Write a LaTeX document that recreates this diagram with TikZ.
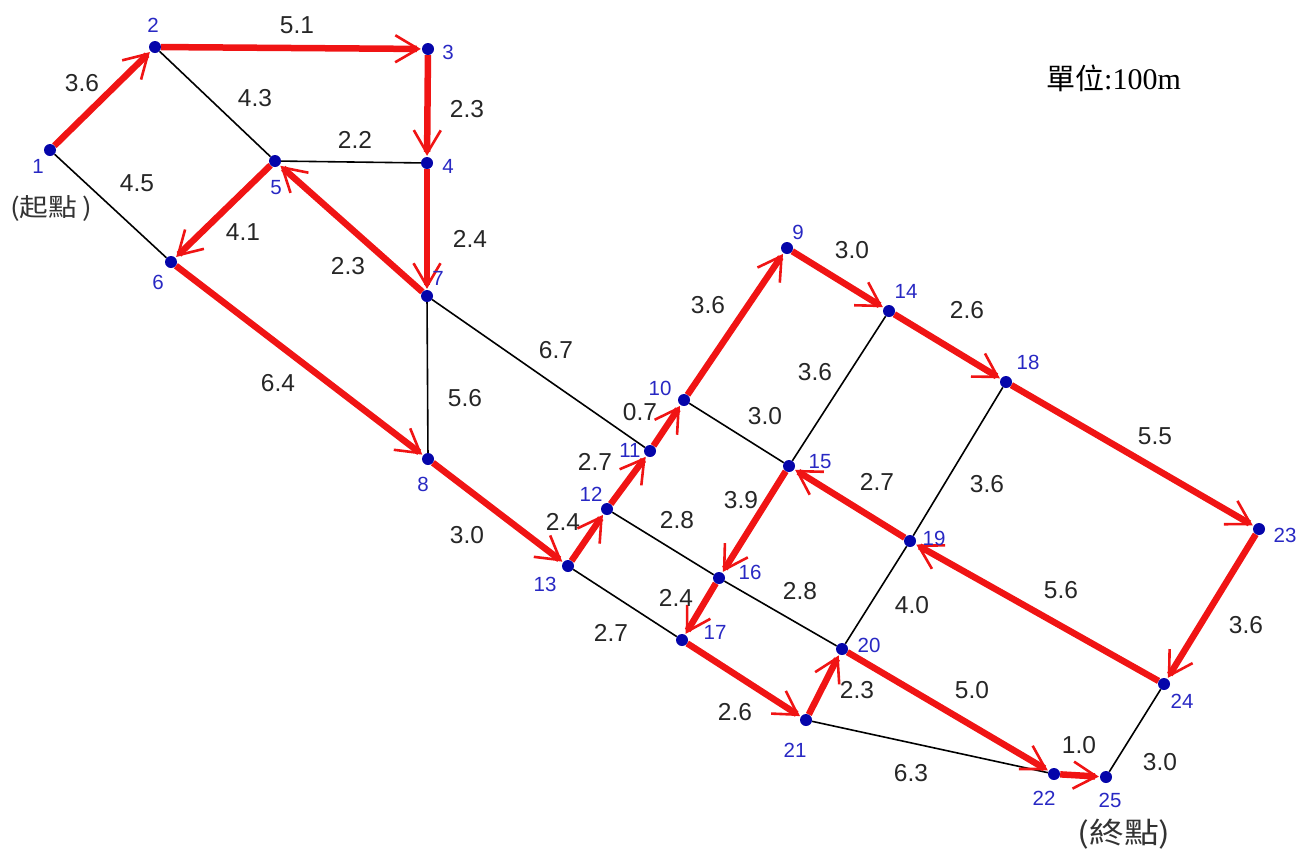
\documentclass[tikz,border=0pt]{standalone}
\usepackage{fontspec}
\setmainfont{Liberation Sans}
\newfontfamily\cjk{Noto Sans CJK TC}
\newfontfamily\timesf{Liberation Serif}
\usetikzlibrary{arrows.meta,backgrounds}
\definecolor{dotblue}{RGB}{5,5,170}
\definecolor{labblue}{RGB}{40,40,195}
\definecolor{pathred}{RGB}{240,20,20}
\begin{document}
\begin{tikzpicture}[x=1pt,y=-1pt,
  dot/.style={circle,fill=dotblue,inner sep=0pt,minimum size=12pt},
  nlab/.style={text=labblue,font=\fontsize{20.5}{20.5}\selectfont,inner sep=0pt},
  elab/.style={text=black!85,font=\fontsize{24.5}{24.5}\selectfont,inner sep=0pt},
  redpath/.style={draw=pathred,line width=6.5pt,shorten >=1pt,
     -{Straight Barb[length=23pt,width=27pt,line width=2.6pt]}},
  blackline/.style={draw=black,line width=1.6pt}]
\useasboundingbox (0,0) rectangle (1310,860);
% nodes
\node[dot] (n1) at (50,150) {};
\node[dot] (n2) at (155,47) {};
\node[dot] (n3) at (428,49) {};
\node[dot] (n4) at (427,163) {};
\node[dot] (n5) at (275,161) {};
\node[dot] (n6) at (171,262) {};
\node[dot] (n7) at (427,296) {};
\node[dot] (n8) at (428,459) {};
\node[dot] (n9) at (787,248) {};
\node[dot] (n10) at (684,400) {};
\node[dot] (n11) at (650,451) {};
\node[dot] (n12) at (607,509) {};
\node[dot] (n13) at (568,566) {};
\node[dot] (n14) at (889,311) {};
\node[dot] (n15) at (789,466) {};
\node[dot] (n16) at (719,578) {};
\node[dot] (n17) at (682,640) {};
\node[dot] (n18) at (1006,382) {};
\node[dot] (n19) at (910,541) {};
\node[dot] (n20) at (842,649) {};
\node[dot] (n21) at (806,720) {};
\node[dot] (n22) at (1054,774) {};
\node[dot] (n23) at (1259,529) {};
\node[dot] (n24) at (1164,684) {};
\node[dot] (n25) at (1106,777) {};
% connectors
\begin{scope}[on background layer]
\draw[blackline] (n1) -- (n6);
\draw[blackline] (n2) -- (n5);
\draw[blackline] (n5) -- (n4);
\draw[blackline] (n7) -- (n8);
\draw[blackline] (n7) -- (n11);
\draw[blackline] (n10) -- (n15);
\draw[blackline] (n14) -- (n15);
\draw[blackline] (n12) -- (n16);
\draw[blackline] (n16) -- (n20);
\draw[blackline] (n13) -- (n17);
\draw[blackline] (n18) -- (n19);
\draw[blackline] (n19) -- (n20);
\draw[blackline] (n21) -- (n22);
\draw[blackline] (n24) -- (n25);
\draw[redpath] (n1) -- (n2);
\draw[redpath] (n2) -- (n3);
\draw[redpath] (n3) -- (n4);
\draw[redpath] (n4) -- (n7);
\draw[redpath] (n7) -- (n5);
\draw[redpath] (n5) -- (n6);
\draw[redpath] (n6) -- (n8);
\draw[redpath] (n8) -- (n13);
\draw[redpath] (n13) -- (n12);
\draw[redpath] (n12) -- (n11);
\draw[redpath] (n11) -- (n10);
\draw[redpath] (n10) -- (n9);
\draw[redpath] (n9) -- (n14);
\draw[redpath] (n14) -- (n18);
\draw[redpath] (n18) -- (n23);
\draw[redpath] (n23) -- (n24);
\draw[redpath] (n24) -- (n19);
\draw[redpath] (n19) -- (n15);
\draw[redpath] (n15) -- (n16);
\draw[redpath] (n16) -- (n17);
\draw[redpath] (n17) -- (n21);
\draw[redpath] (n21) -- (n20);
\draw[redpath] (n20) -- (n22);
\draw[redpath] (n22) -- (n25);
\end{scope}
% node labels
\node[nlab] (t1) at (38,166) {1};
\node[nlab] (t2) at (153,25) {2};
\node[nlab] (t3) at (448,52) {3};
\node[nlab] (t4) at (448,166) {4};
\node[nlab] (t5) at (276,188) {5};
\node[nlab] (t6) at (158,282) {6};
\node[nlab] (t7) at (438,278) {7};
\node[nlab] (t8) at (423,484) {8};
\node[nlab] (t9) at (798,232) {9};
\node[nlab] (t10) at (660,388) {10};
\node[nlab] (t11) at (630,450) {11};
\node[nlab] (t12) at (591,494) {12};
\node[nlab] (t13) at (545,584) {13};
\node[nlab] (t14) at (906,291) {14};
\node[nlab] (t15) at (820,462) {15};
\node[nlab] (t16) at (750,572) {16};
\node[nlab] (t17) at (715,632) {17};
\node[nlab] (t18) at (1028,362) {18};
\node[nlab] (t19) at (934,538) {19};
\node[nlab] (t20) at (869,645) {20};
\node[nlab] (t21) at (795,750) {21};
\node[nlab] (t22) at (1044,798) {22};
\node[nlab] (t23) at (1285,535) {23};
\node[nlab] (t24) at (1182,701) {24};
\node[nlab] (t25) at (1110,800) {25};
% edge labels
\node[elab] (e1) at (82,83) {3.6};
\node[elab] (e2) at (297,25) {5.1};
\node[elab] (e3) at (255,98) {4.3};
\node[elab] (e4) at (467,109) {2.3};
\node[elab] (e5) at (355,140) {2.2};
\node[elab] (e6) at (137,183) {4.5};
\node[elab] (e7) at (243,232) {4.1};
\node[elab] (e8) at (470,239) {2.4};
\node[elab] (e9) at (348,266) {2.3};
\node[elab] (e10) at (278,383) {6.4};
\node[elab] (e11) at (556,350) {6.7};
\node[elab] (e12) at (465,398) {5.6};
\node[elab] (e13) at (467,535) {3.0};
\node[elab] (e14) at (708,305) {3.6};
\node[elab] (e15) at (852,250) {3.0};
\node[elab] (e16) at (967,310) {2.6};
\node[elab] (e17) at (815,372) {3.6};
\node[elab] (e18) at (640,412) {0.7};
\node[elab] (e19) at (765,416) {3.0};
\node[elab] (e20) at (595,462) {2.7};
\node[elab] (e21) at (1155,436) {5.5};
\node[elab] (e22) at (987,484) {3.6};
\node[elab] (e23) at (877,482) {2.7};
\node[elab] (e24) at (741,500) {3.9};
\node[elab] (e25) at (563,522) {2.4};
\node[elab] (e26) at (677,520) {2.8};
\node[elab] (e27) at (1061,590) {5.6};
\node[elab] (e28) at (676,598) {2.4};
\node[elab] (e29) at (800,591) {2.8};
\node[elab] (e30) at (912,605) {4.0};
\node[elab] (e31) at (611,633) {2.7};
\node[elab] (e32) at (1246,625) {3.6};
\node[elab] (e33) at (857,690) {2.3};
\node[elab] (e34) at (972,690) {5.0};
\node[elab] (e35) at (735,712) {2.6};
\node[elab] (e36) at (1079,745) {1.0};
\node[elab] (e37) at (1160,762) {3.0};
\node[elab] (e38) at (911,773) {6.3};
% other texts
\node[inner sep=0pt,text=black!80] (start) at (51,208) {\scalebox{1.15}[1]{\cjk\fontsize{25}{25}\selectfont (起點\,)}};
\node[inner sep=0pt,text=black!80] (finish) at (1124,834) {\scalebox{1.2}[1]{\cjk\fontsize{29}{29}\selectfont (終點)}};
\node[inner sep=0pt,anchor=west] (unit) at (1046,78) {{\cjk\fontsize{29}{29}\selectfont 單位}{\timesf\fontsize{30}{30}\selectfont :100m}};
\end{tikzpicture}
\end{document}
